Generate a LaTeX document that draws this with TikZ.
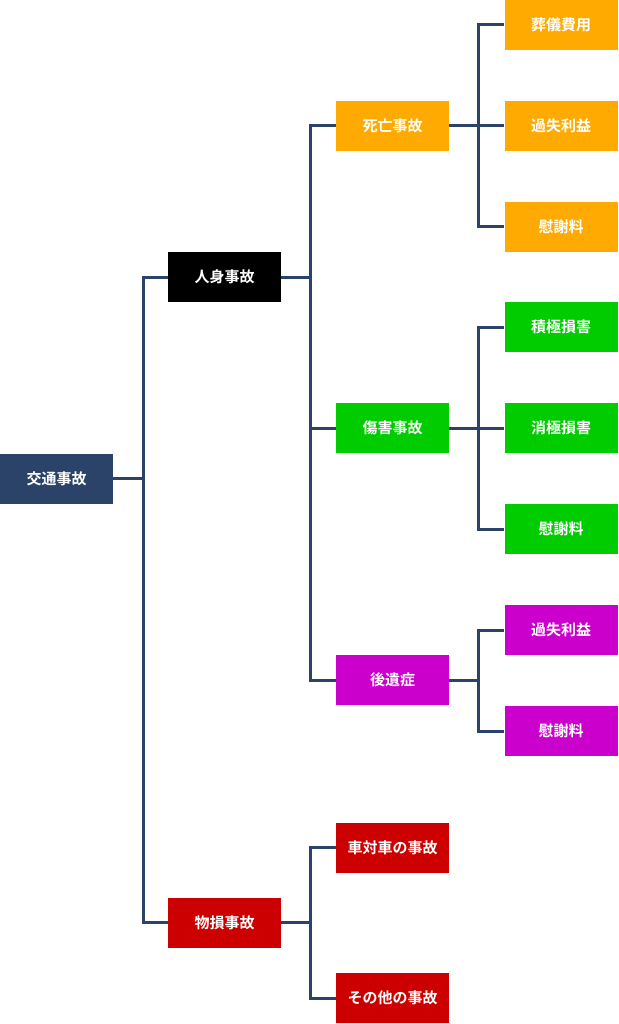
\documentclass[tikz,border=0pt]{standalone}
\usepackage{fontspec}
\newfontfamily\jp{Noto Sans CJK JP}[BoldFont={Noto Sans CJK JP Bold}]
\definecolor{navy}{HTML}{2B4368}
\definecolor{orng}{HTML}{FFAA00}
\definecolor{grn}{HTML}{00CC00}
\definecolor{mag}{HTML}{CC00CC}
\definecolor{rd}{HTML}{CC0000}
\tikzset{
  box/.style={minimum width=113pt, minimum height=50pt, inner sep=0pt, text=white,
    font=\jp\bfseries\fontsize{15}{17}\selectfont},
  link/.style={draw=navy, line width=3pt, line join=miter}
}
\begin{document}
\begin{tikzpicture}[x=1pt,y=-1pt]
\useasboundingbox (0,0) rectangle (618,1024);
% level 0-1
\node[box, fill=navy] (root) at (56.5,478.5) {交通事故};
\node[box, fill=black] (jinshin) at (224.5,277) {人身事故};
\node[box, fill=rd] (butsu) at (224.5,922.5) {物損事故};
% level 2
\node[box, fill=orng] (shibo) at (392.5,126) {死亡事故};
\node[box, fill=grn] (shogai) at (392.5,428) {傷害事故};
\node[box, fill=mag] (koui) at (392.5,680) {後遺症};
\node[box, fill=rd] (shatai) at (392.5,847.5) {車対車の事故};
\node[box, fill=rd] (sonota) at (392.5,998) {その他の事故};
% level 3
\node[box, fill=orng] (sougi) at (561,25) {葬儀費用};
\node[box, fill=orng] (kashitsuA) at (561,126) {過失利益};
\node[box, fill=orng] (isharyoA) at (561,227) {慰謝料};
\node[box, fill=grn] (sekkyoku) at (561,327) {積極損害};
\node[box, fill=grn] (shokyoku) at (561,428) {消極損害};
\node[box, fill=grn] (isharyoB) at (561,529) {慰謝料};
\node[box, fill=mag] (kashitsuC) at (561,630) {過失利益};
\node[box, fill=mag] (isharyoC) at (561,731) {慰謝料};
% connectors
\foreach \c in {jinshin,butsu} \draw[link] (root.east) -- ++(30,0) |- (\c.west);
\foreach \c in {shibo,shogai,koui} \draw[link] (jinshin.east) -- ++(29,0) |- (\c.west);
\foreach \c in {shatai,sonota} \draw[link] (butsu.east) -- ++(29,0) |- (\c.west);
\foreach \c in {sougi,kashitsuA,isharyoA} \draw[link] (shibo.east) -- ++(29,0) |- (\c.west);
\foreach \c in {sekkyoku,shokyoku,isharyoB} \draw[link] (shogai.east) -- ++(29,0) |- (\c.west);
\foreach \c in {kashitsuC,isharyoC} \draw[link] (koui.east) -- ++(29,0) |- (\c.west);
\end{tikzpicture}
\end{document}
